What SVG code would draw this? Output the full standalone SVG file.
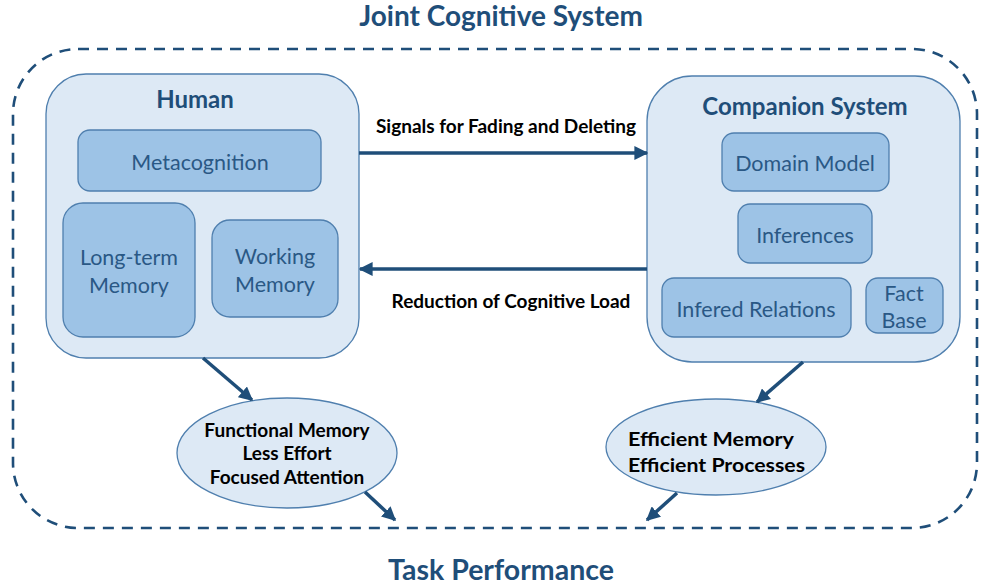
<svg xmlns="http://www.w3.org/2000/svg" width="981" height="588" viewBox="0 0 981 588">
<defs>
<style>
.outer{fill:none;stroke:#1f4e79;stroke-width:2.6;stroke-dasharray:11 8}
.big{fill:#dde9f5;stroke:#4f7fae;stroke-width:1.3}
.sub{fill:#9dc3e6;stroke:#4f7fae;stroke-width:1.3}
.ell{fill:#dde9f5;stroke:#4f7fae;stroke-width:1.3}
.title{font-family:Lato,"Liberation Sans",sans-serif;font-weight:bold;fill:#1f4e79;text-anchor:middle}
.sublbl{font-family:Lato,"Liberation Sans",sans-serif;font-size:21.5px;fill:#2a5885;text-anchor:middle}
.lbl{font-family:Lato,"Liberation Sans",sans-serif;font-weight:bold;fill:#000;font-size:19px}
.conn{stroke:#1f4e79;stroke-width:3.5;fill:none;marker-end:url(#ah)}
</style>
<marker id="ah" viewBox="0 0 10 10" refX="9" refY="5" markerWidth="4" markerHeight="4" orient="auto" markerUnits="strokeWidth">
<path d="M0,0 L10,5 L0,10 z" fill="#1f4e79"/>
</marker>
</defs>
<rect width="981" height="588" fill="#fff"/>
<g id="joint-system">
<rect class="outer" x="13" y="49" width="964" height="479" rx="65" ry="65"/>
<text class="title" x="501" y="26" font-size="28">Joint Cognitive System</text>
<text class="title" x="501" y="580" font-size="28.5">Task Performance</text>
</g>
<g id="human">
<rect class="big" x="46" y="74" width="313" height="284" rx="40" ry="40"/>
<text class="title" x="195" y="108" font-size="24">Human</text>
</g>
<g id="metacognition">
<rect class="sub" x="78" y="130" width="243" height="61" rx="12" ry="12"/>
<text class="sublbl" x="200" y="170">Metacognition</text>
</g>
<g id="long-term-memory">
<rect class="sub" x="63" y="203" width="132" height="134" rx="20" ry="20"/>
<text class="sublbl" x="129" y="265">Long-term</text>
<text class="sublbl" x="129" y="293">Memory</text>
</g>
<g id="working-memory">
<rect class="sub" x="212" y="220" width="126" height="97" rx="18" ry="18"/>
<text class="sublbl" x="275" y="264">Working</text>
<text class="sublbl" x="275" y="292">Memory</text>
</g>
<g id="companion">
<rect class="big" x="647" y="76" width="313" height="286" rx="45" ry="45"/>
<text class="title" x="805" y="115" font-size="24">Companion System</text>
</g>
<g id="domain-model">
<rect class="sub" x="722" y="133" width="167" height="58" rx="12" ry="12"/>
<text class="sublbl" x="805" y="171">Domain Model</text>
</g>
<g id="inferences">
<rect class="sub" x="738" y="204" width="134" height="59" rx="12" ry="12"/>
<text class="sublbl" x="805" y="243">Inferences</text>
</g>
<g id="infered-relations">
<rect class="sub" x="662" y="278" width="189" height="59" rx="12" ry="12"/>
<text class="sublbl" x="756" y="317">Infered Relations</text>
</g>
<g id="fact-base">
<rect class="sub" x="866" y="278" width="77" height="55" rx="12" ry="12"/>
<text class="sublbl" x="904" y="301">Fact</text>
<text class="sublbl" x="904" y="328">Base</text>
</g>
<g id="human-outcome">
<ellipse class="ell" cx="287" cy="453" rx="110" ry="55"/>
<text class="lbl" x="287" y="437" text-anchor="middle" font-size="19.5">Functional Memory</text>
<text class="lbl" x="287" y="460" text-anchor="middle" font-size="19.5">Less Effort</text>
<text class="lbl" x="287" y="484" text-anchor="middle" font-size="19.5">Focused Attention</text>
</g>
<g id="companion-outcome">
<ellipse class="ell" cx="716" cy="447" rx="110" ry="48"/>
<text class="lbl" x="628" y="446" font-size="23.5" textLength="166" lengthAdjust="spacingAndGlyphs">Efficient Memory</text>
<text class="lbl" x="628" y="472" font-size="23.5" textLength="177" lengthAdjust="spacingAndGlyphs">Efficient Processes</text>
</g>
<g id="connectors">
<line class="conn" x1="359" y1="153" x2="647" y2="153"/>
<text class="lbl" x="506" y="133" text-anchor="middle">Signals for Fading and Deleting</text>
<line class="conn" x1="647" y1="269" x2="360" y2="269"/>
<text class="lbl" x="511" y="308" text-anchor="middle">Reduction of Cognitive Load</text>
<line class="conn" x1="203" y1="358" x2="252" y2="400"/>
<line class="conn" x1="365" y1="492" x2="395" y2="520"/>
<line class="conn" x1="803" y1="362" x2="757" y2="402"/>
<line class="conn" x1="677" y1="493" x2="647" y2="520"/>
</g>
</svg>
